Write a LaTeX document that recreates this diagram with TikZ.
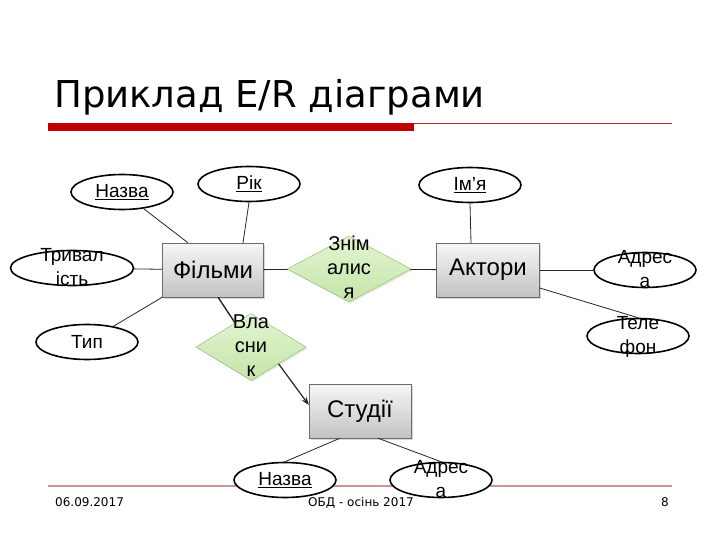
\documentclass[tikz,border=0pt]{standalone}
\usepackage{fontspec}
\setmainfont{Liberation Sans}
\newfontfamily\verd{DejaVu Sans}
\usetikzlibrary{shapes.geometric,shadows,arrows.meta}
\definecolor{barred}{HTML}{C00000}
\definecolor{thinred}{HTML}{A83030}
\definecolor{footline}{HTML}{C89494}
\definecolor{reltop}{HTML}{E2F4D2}
\definecolor{relbot}{HTML}{C6E5A8}
\definecolor{reldraw}{HTML}{8CB86C}
\newcommand{\cellz}[1]{\smash{\raisebox{-.27em}{\begin{tabular}{@{}c@{}}#1\end{tabular}}}}

\begin{document}
\begin{tikzpicture}[x=1pt,y=-1pt,
  entity/.style={draw=gray!85!black, top color=gray!6, bottom color=gray!48,
    minimum width=101pt, minimum height=54pt, inner sep=0pt,
    font=\fontsize{24}{24}\selectfont,
    drop shadow={opacity=0.3, shadow xshift=1.5pt, shadow yshift=-1.5pt}},
  relship/.style={diamond, draw=reldraw, top color=reltop, bottom color=relbot,
    inner sep=0pt, font=\fontsize{20}{24}\selectfont,
    drop shadow={opacity=0.2, shadow xshift=1.5pt, shadow yshift=-1.5pt}},
  attr/.style={ellipse, draw, line width=1.6pt, fill=white, minimum width=102pt,
    minimum height=35pt, inner sep=0pt, font=\fontsize{19}{23.5}\selectfont},
  foot/.style={font=\verd\fontsize{12}{12}\selectfont, inner sep=0pt},
  link/.style={draw=black!85, line width=0.8pt}]
\fill[white] (0,0) rectangle (720,540);
% title and header bar:
\node[anchor=base west, inner sep=0pt, font=\verd\fontsize{37}{37}\selectfont] (title) at (54,108) {Приклад E/R діаграми};
\fill[barred] (48,123) rectangle (414,131);
\draw[thinred, line width=0.8pt] (414,123.4) -- (672,123.4);
% footer:
\draw[footline, line width=1.6pt] (48,486) -- (672,486);
\node[foot, anchor=base west] (date) at (55,506) {06.09.2017};
\node[foot, anchor=base] (course) at (361,506) {ОБД - осінь 2017};
\node[foot, anchor=base east] (page) at (669,506) {8};
% entities:
\node[entity] (films) at (213,270) {Фільми};
\node[entity, minimum width=103pt] (actors) at (488,270) {Актори};
\node[entity, minimum width=102pt] (studios) at (360,411) {Студії};
% relationships:
\node[relship, minimum width=124pt, minimum height=66pt] (znim) at (349,269) {\cellz{Знім\\алис\\я}};
\node[relship, minimum width=110pt, minimum height=67pt] (vlas) at (251,347) {\cellz{Вла\\сни\\к}};
% attributes:
\node[attr] (fname) at (122,192) {\underline{Назва}};
\node[attr] (frik) at (249,184) {\underline{Рік}};
\node[attr, minimum width=123pt] (ftryv) at (72,268) {\cellz{Тривал\\ість}};
\node[attr] (ftyp) at (87,342) {Тип};
\node[attr] (aname) at (470,185) {\underline{Ім’я}};
\node[attr] (aadr) at (645,270) {\cellz{Адрес\\а}};
\node[attr] (atel) at (638,336) {\cellz{Теле\\фон}};
\node[attr] (sname) at (285,480) {\underline{Назва}};
\node[attr] (sadr) at (441,480) {\cellz{Адрес\\а}};
% connectors:
\draw[link] (fname) -- ([xshift=-25pt]films.north);
\draw[link] (frik.south) -- ([xshift=30pt]films.north);
\draw[link] (ftryv) -- (films);
\draw[link] (ftyp) -- (films.south west);
\draw[link] (films) -- (znim);
\draw[link] (znim) -- (actors);
\draw[link] (aname.south) -- ([xshift=-17pt]actors.north);
\draw[link] (actors) -- (aadr);
\draw[link] ([yshift=-18pt]actors.east) -- (atel.north);
\draw[link, line width=1.4pt] ([xshift=5pt]films.south) -- (vlas);
\draw[link, line width=1.2pt, -{Stealth[length=8pt]}] (vlas.south east) -- ([yshift=6pt]studios.west);
\draw[link] ([xshift=-20pt]studios.south) -- (sname.north);
\draw[link] ([xshift=18pt]studios.south) -- (sadr.north);
\end{tikzpicture}
\end{document}
